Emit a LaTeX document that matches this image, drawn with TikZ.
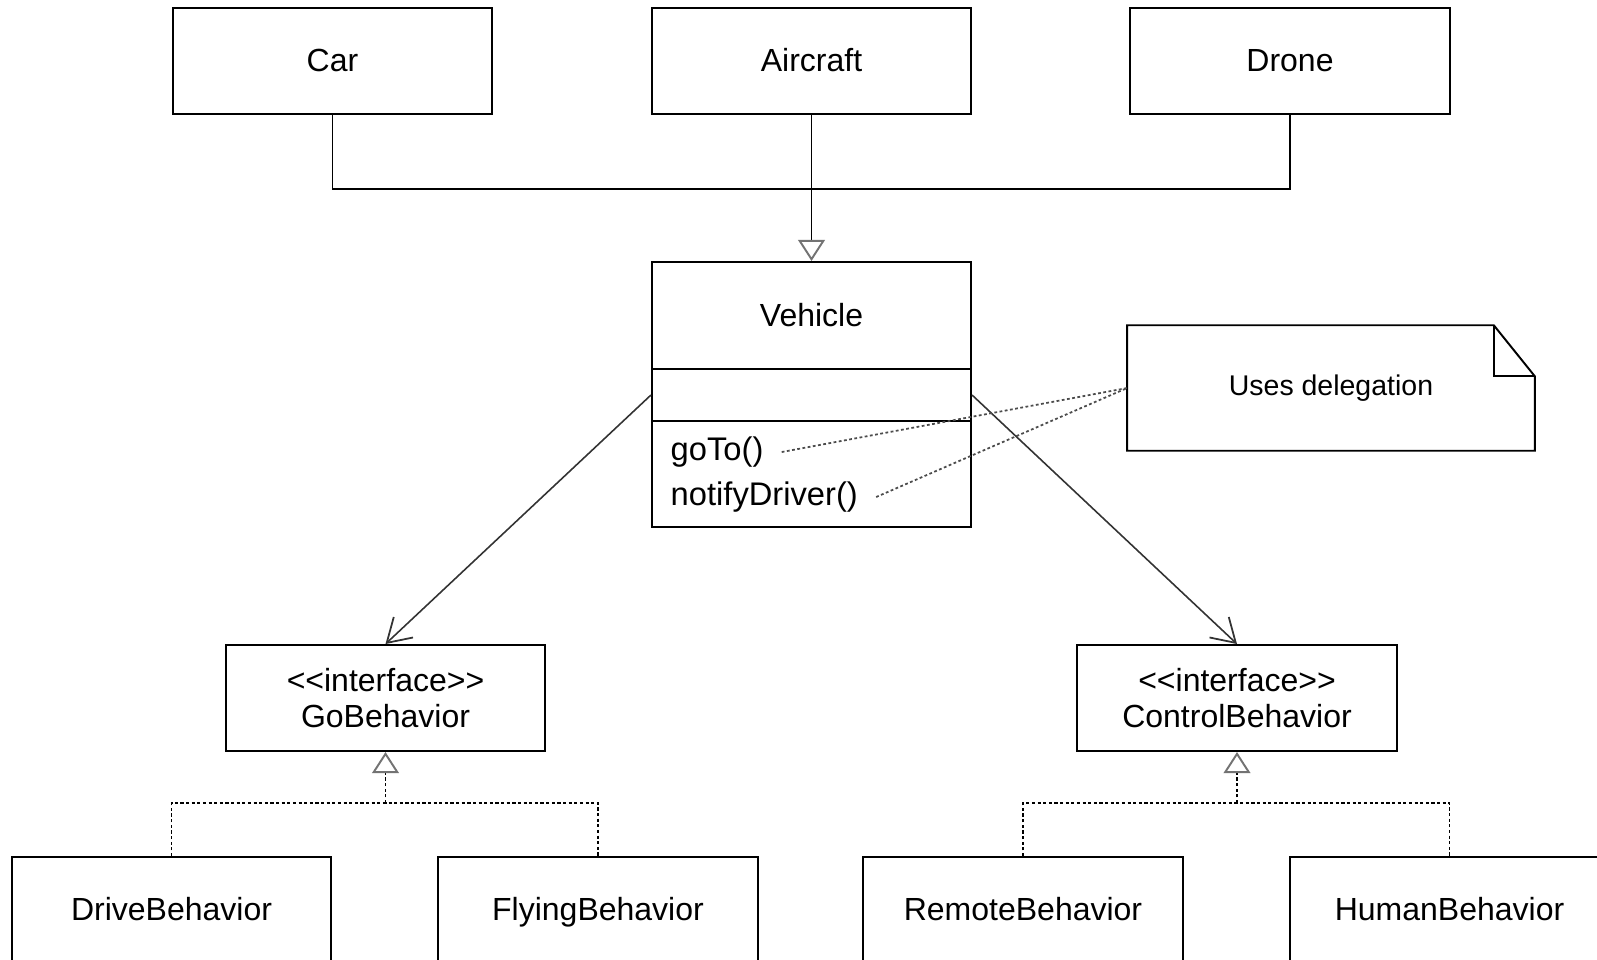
\documentclass[tikz,border=0pt]{standalone}
\usepackage{fontspec}
\setmainfont{Liberation Sans}
\usetikzlibrary{arrows.meta,calc}

\begin{document}
\begin{tikzpicture}[x=0.01cm, y=-0.01cm,
        classbox/.style={draw, line width=0.55pt, minimum width=3.19cm, minimum height=1.06cm,
            inner sep=0pt, align=center, font=\fontsize{9.1}{10.2}\selectfont},
        onebox/.style={classbox, text height=0.72em, text depth=0.1em},
        genline/.style={line width=0.45pt},
        gentip/.style={-{Triangle[length=6pt, width=7.6pt, fill=white, color=black!55, line width=0.55pt]}},
        realline/.style={line width=0.5pt, dash pattern=on 0.9pt off 0.7pt},
        assocline/.style={line width=0.45pt, black!80, -{Straight Barb[length=6.5pt, width=8pt, line width=0.5pt]}},
        noteline/.style={line width=0.5pt, black!70, dash pattern=on 0.8pt off 0.7pt}]
    \useasboundingbox (0,0) rectangle (1597,959);
    \clip (0,0) rectangle (1597,959);

    % subclasses of Vehicle
    \node[onebox] (car) at (332.5, 61) {Car};
    \node[onebox] (aircraft) at (811.5, 61) {Aircraft};
    \node[onebox] (drone) at (1290, 61) {Drone};

    % Vehicle, three compartments
    \node[onebox, minimum height=1.07cm] (vehicle) at (811.5, 315.5) {Vehicle};
    \node[classbox, minimum height=0.52cm] (vattr) at (811.5, 395) {};
    \node[classbox, minimum height=1.06cm] (vops) at (811.5, 474) {};
    \node[anchor=west, inner sep=0pt, font=\fontsize{9.3}{10.2}\selectfont] (goto) at (670, 452) {goTo()};
    \node[anchor=west, inner sep=0pt, font=\fontsize{9.3}{10.2}\selectfont] (notify) at (670, 497) {notifyDriver()};

    % note
    \node[minimum width=4.06cm, minimum height=1.24cm, inner sep=0pt,
        font=\fontsize{8.1}{10}\selectfont] (note) at (1331, 388) {Uses delegation};
    \draw[line width=0.55pt] (note.south west) -- (note.north west) -- ($(note.north east)+(-41,0)$)
        -- ($(note.north east)+(0,51)$) -- (note.south east) -- cycle;
    \draw[line width=0.55pt] ($(note.north east)+(-41,0)$) |- ($(note.north east)+(0,51)$);

    % interfaces
    \node[classbox] (gobeh) at (385.5, 698) {{<}{<}interface{>}{>}\\GoBehavior};
    \node[classbox] (ctrlbeh) at (1237, 698) {{<}{<}interface{>}{>}\\ControlBehavior};

    % implementations
    \node[onebox] (drive) at (171.5, 910) {DriveBehavior};
    \node[onebox] (flying) at (598, 910) {FlyingBehavior};
    \node[onebox] (remote) at (1023, 910) {RemoteBehavior};
    \node[onebox] (human) at (1449.5, 910) {HumanBehavior};

    \coordinate (vjoin) at (811.5, 189);
    \coordinate (gojoin) at (385.5, 803);
    \coordinate (ctrljoin) at (1237, 803);

    \draw[genline] (car.south) |- (vjoin) -| (drone.south); % car, drone
    \draw[genline, gentip] (aircraft.south) -- (vehicle.north);

    \draw[assocline] (vattr.west) -- (gobeh.north);
    \draw[assocline] (vattr.east) -- (ctrlbeh.north);

    \draw[noteline] ([xshift=5pt]goto.east) -- (note.west);
    \draw[noteline] ([xshift=5pt]notify.east) -- (note.west);

    \draw[realline] (drive.north) |- (gojoin) -| (flying.north);
    \draw[realline, gentip] (gojoin) -- (gobeh.south);
    \draw[realline] (remote.north) |- (ctrljoin) -| (human.north);
    \draw[realline, gentip] (ctrljoin) -- (ctrlbeh.south);
\end{tikzpicture}
\end{document}
